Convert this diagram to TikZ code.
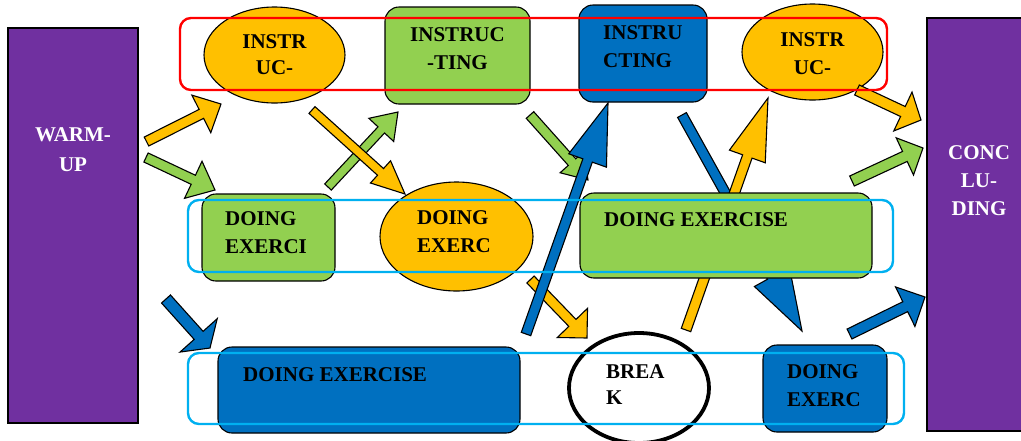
\documentclass[tikz,border=0pt]{standalone}
\usepackage{fontspec}
\setmainfont{Liberation Serif}
\usetikzlibrary{shapes.geometric,calc}
\definecolor{cOr}{HTML}{FFC000}
\definecolor{cGr}{HTML}{92D050}
\definecolor{cBl}{HTML}{0070C0}
\definecolor{cPu}{HTML}{7030A0}
\definecolor{cLb}{HTML}{00B0F0}
\definecolor{cRd}{HTML}{FF0000}
% #1 tail, #2 tip, #3 colour, #4 shaft half width, #5 head half width, #6 head length
\newcommand{\bArrow}[6]{%
  \coordinate (ba-c) at ($(#2)!#6pt!(#1)$);
  \draw[fill=#3, line width=1.1pt, line join=miter]
    ($(#1)!#4pt!90:(#2)$) -- ($(ba-c)!#4pt!90:(#2)$) -- ($(ba-c)!#5pt!90:(#2)$)
    -- (#2) -- ($(ba-c)!#5pt!-90:(#2)$) -- ($(ba-c)!#4pt!-90:(#2)$)
    -- ($(#1)!#4pt!-90:(#2)$) -- cycle;
}
\tikzset{
  bar/.style={draw=black, line width=1.1pt, fill=cPu, rectangle, inner sep=0pt},
  rbox/.style={draw=black, line width=1.1pt, rectangle, rounded corners=14pt, inner sep=0pt},
  ebox/.style={draw=black, line width=1.1pt, ellipse, inner sep=0pt},
  grp/.style={rectangle, rounded corners=11pt, line width=2.4pt, inner sep=0pt},
  lbl/.style={font=\bfseries\fontsize{21}{28}\selectfont, inner sep=0pt, text=black},
}
\begin{document}
\begin{tikzpicture}[x=1pt, y=-1pt]
\useasboundingbox (0,0) rectangle (1021,440);
% side bars
\node[bar, minimum width=130pt, minimum height=395pt] (warm) at (73,225.5) {};
\node[bar, minimum width=104pt, minimum height=413pt] (conc) at (979,224.5) {};
% arrow end coordinates
\coordinate (a1s) at (146.5,141.5); \coordinate (a1e) at (221,104);
\coordinate (a2s) at (146,157.5);   \coordinate (a2e) at (215,190);
\coordinate (a3s) at (312,110);     \coordinate (a3e) at (405,194);
\coordinate (a4s) at (328,187);     \coordinate (a4e) at (398,112);
\coordinate (a5s) at (530,115);     \coordinate (a5e) at (588,180);
\coordinate (a6s) at (526,334);     \coordinate (a6e) at (608,103);
\coordinate (a7s) at (530.5,279.5); \coordinate (a7e) at (587,338);
\coordinate (a8s) at (682,115);     \coordinate (a8e) at (802,331);
\coordinate (a9s) at (686,330);     \coordinate (a9e) at (768,98);
\coordinate (a10s) at (857,90);     \coordinate (a10e) at (921,120);
\coordinate (a11s) at (852,181);    \coordinate (a11e) at (923,148);
\coordinate (a12s) at (849.5,334);  \coordinate (a12e) at (925,297);
\coordinate (a13s) at (166,299);    \coordinate (a13e) at (210,348);
% arrows passing behind the green box
\bArrow{a8s}{a8e}{cBl}{5}{20}{62}
\bArrow{a9s}{a9e}{cOr}{5}{19}{62}
% shapes
\node[ebox, fill=cOr, minimum width=141pt, minimum height=96pt] (i1) at (274.5,55) {};
\node[rbox, fill=cGr, minimum width=145pt, minimum height=97pt] (i2) at (457.5,55.5) {};
\node[rbox, fill=cBl, minimum width=128pt, minimum height=97pt] (i3) at (643,53.5) {};
\node[ebox, fill=cOr, minimum width=141pt, minimum height=96pt] (i4) at (812.5,52) {};
\node[rbox, fill=cGr, minimum width=133pt, minimum height=87pt] (d1) at (268.5,237.5) {};
\node[ebox, fill=cOr, minimum width=153pt, minimum height=109pt] (d2) at (456.5,236.5) {};
\node[rbox, fill=cGr, minimum width=292pt, minimum height=85pt] (d3) at (726,235.5) {};
\node[rbox, fill=cBl, minimum width=302pt, minimum height=86pt] (d4) at (369,390) {};
\node[ebox, fill=white, line width=3.8pt, minimum width=140pt, minimum height=110pt] (brk) at (639,388) {};
\node[rbox, fill=cBl, minimum width=124pt, minimum height=87pt] (d5) at (825,388.5) {};
% other arrows
\bArrow{a1s}{a1e}{cOr}{5}{21}{22}
\bArrow{a2s}{a2e}{cGr}{5}{20.5}{24}
\bArrow{a4s}{a4e}{cGr}{4.5}{17}{24.5}
\bArrow{a3s}{a3e}{cOr}{4.5}{15}{33}
\bArrow{a5s}{a5e}{cGr}{5}{16}{24}
\bArrow{a7s}{a7e}{cOr}{5}{21}{21}
\bArrow{a6s}{a6e}{cBl}{5}{20}{61}
\bArrow{a10s}{a10e}{cOr}{5.5}{21.5}{20}
\bArrow{a11s}{a11e}{cGr}{5.5}{20.5}{20}
\bArrow{a12s}{a12e}{cBl}{5.5}{22}{22}
\bArrow{a13s}{a13e}{cBl}{6}{25}{17}
% group outlines
\node[grp, draw=cRd, minimum width=707pt, minimum height=72pt] (gtop) at (533.5,54) {};
\node[grp, draw=cLb, minimum width=705pt, minimum height=72pt] (gmid) at (540.5,236) {};
\node[grp, draw=cLb, minimum width=716pt, minimum height=71pt] (gbot) at (546,388.5) {};
% texts
\node[lbl, text=white, align=center] (twarm) at (73,150) {WARM-\\[2pt]UP};
\node[lbl, text=white, align=center] (tconc) at (979,180.5) {CONC\\LU-\\DING};
\node[lbl, align=center] (ti1) at (274.5,55) {INSTR\\[-2pt]UC-};
\node[lbl, align=center] (ti2) at (457.5,49) {INSTRUC\\-TING};
\node[lbl, align=left, anchor=west] (ti3) at (603,46.5) {INSTRU\\CTING};
\node[lbl, align=center] (ti4) at (812.5,54) {INSTR\\UC-};
\node[lbl, align=left, anchor=west] (td1) at (225,233) {DOING\\EXERCI};
\node[lbl, align=left, anchor=west] (td2) at (417,232) {DOING\\EXERC};
\node[lbl, anchor=west] (td3) at (604,220) {DOING EXERCISE};
\node[lbl, anchor=west] (td4) at (243,375) {DOING EXERCISE};
\node[lbl, align=left, anchor=west] (tbrk) at (606,385) {BREA\\[-2pt]K};
\node[lbl, align=left, anchor=west] (td5) at (787,386) {DOING\\EXERC};
\end{tikzpicture}
\end{document}
